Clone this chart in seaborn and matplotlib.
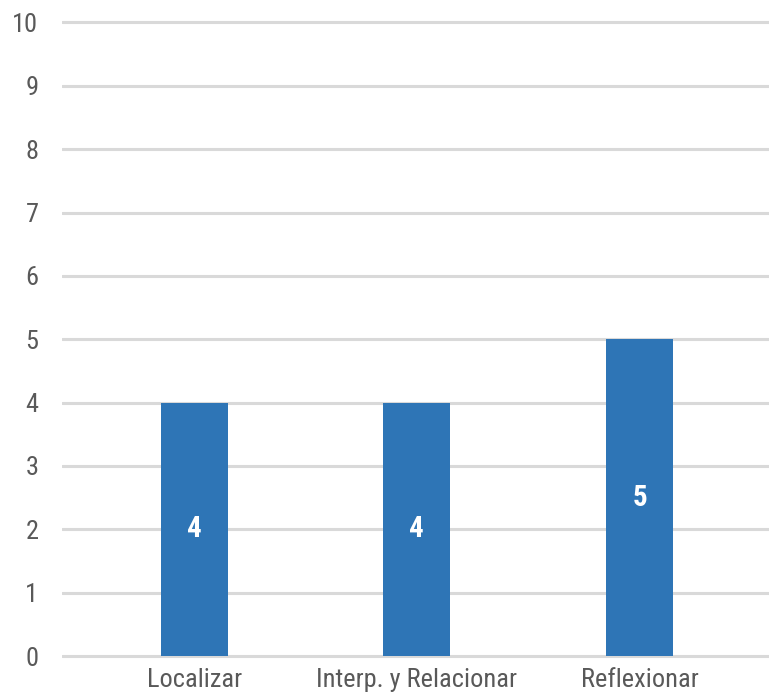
import pandas as pd
import numpy as np
import matplotlib
matplotlib.use('Agg')
import matplotlib.pyplot as plt
from matplotlib import font_manager
import seaborn as sb

categorias = ['Localizar', 'Interp. y Relacionar', 'Reflexionar']
valores = [4, 4, 5]
ticks_y = list(range(0, 11))

sb.set_theme(style='white')

# busca una fuente estrecha, si no hay se usa una normal mas chica
fuente = None
for f in ['DejaVu Sans Condensed', 'Liberation Sans Narrow', 'Roboto Condensed']:
    try:
        font_manager.findfont(f, fallback_to_default=False)
        fuente = f
        break
    except ValueError:
        pass
if fuente is None:
    fuente = 'DejaVu Sans'
    tam = 16
    tam_val = 16
else:
    tam = 19
    tam_val = 21
plt.rcParams['font.family'] = [fuente, 'DejaVu Sans']

datos = pd.DataFrame({'cat': categorias, 'val': valores})

fig = plt.figure(figsize=(7.69, 6.98), dpi=100)
ax = fig.add_axes([62/769, 1 - 659.2/698, 1 - 62/769, (659.2 - 19.3)/698])

sb.barplot(data=datos, x='cat', y='val', color='#2E75B6', saturation=1, width=0.3,
           linewidth=0, ax=ax, zorder=3)

ax.set_ylim(-0.05, 10.05)
ax.set_xlim(-0.593, 2.581)
ax.set_yticks(ticks_y)
ax.set_yticklabels([str(t) for t in ticks_y])
ax.yaxis.grid(True, color='#d9d9d9', linewidth=2.2, zorder=0)
ax.set_axisbelow(True)
for s in ax.spines.values():
    s.set_visible(False)
ax.set_xlabel('')
ax.set_ylabel('')
ax.tick_params(axis='y', length=0, pad=17, labelsize=tam, labelcolor='#595959')
ax.tick_params(axis='x', length=0, pad=6, labelsize=tam, labelcolor='#595959')

for i, v in enumerate(valores):
    ax.text(i, v / 2, str(v), ha='center', va='center', color='white',
            fontsize=tam_val, fontweight='bold', zorder=4)

fig.savefig('out.png', dpi=100)
